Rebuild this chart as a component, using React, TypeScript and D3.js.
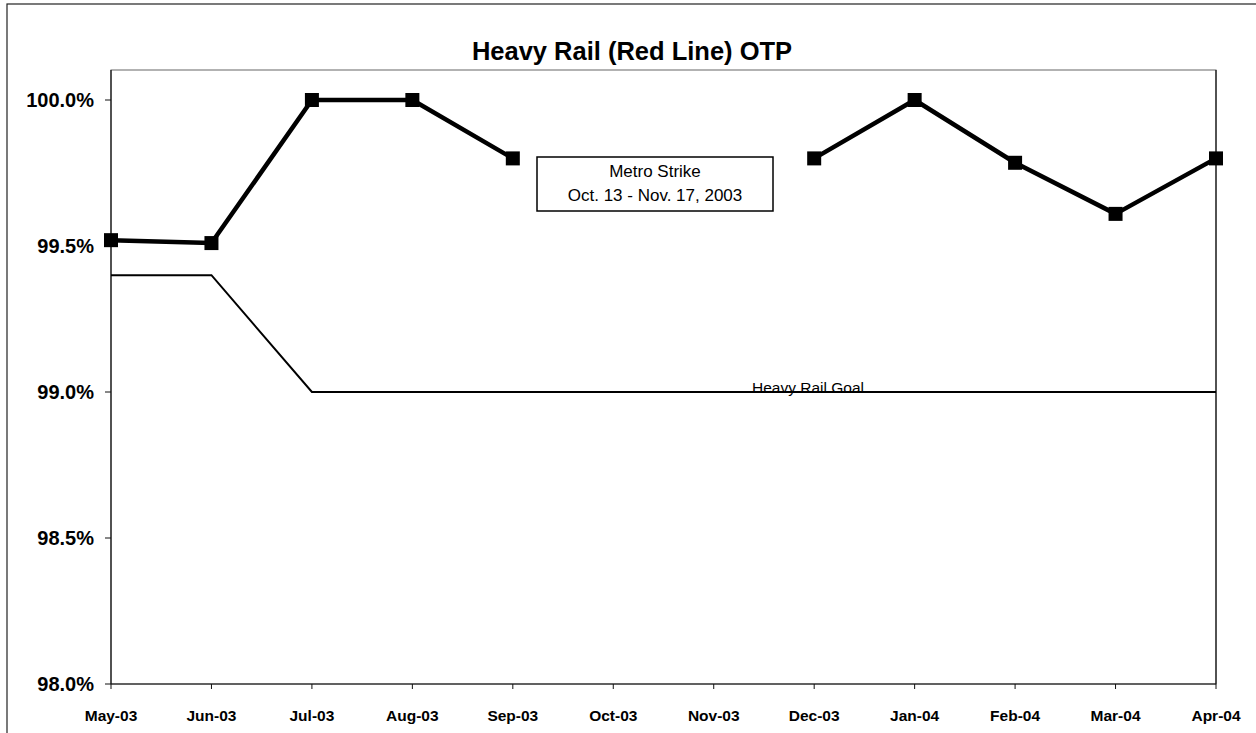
import React from "react";
import * as d3 from "d3";

const months = ["May-03","Jun-03","Jul-03","Aug-03","Sep-03","Oct-03","Nov-03","Dec-03","Jan-04","Feb-04","Mar-04","Apr-04"];
const otp: (number | null)[] = [99.52, 99.51, 100.0, 100.0, 99.8, null, null, 99.8, 100.0, 99.785, 99.61, 99.8];
const goal = [99.4, 99.4, 99.0, 99.0, 99.0, 99.0, 99.0, 99.0, 99.0, 99.0, 99.0, 99.0];
const yTicks = [98.0, 98.5, 99.0, 99.5, 100.0];
const title = "Heavy Rail (Red Line) OTP";
const noteLines = ["Metro Strike", "Oct. 13 - Nov. 17, 2003"];
const goalLabel = "Heavy Rail Goal";

const W = 1256, H = 733;
const left = 111, right = 1216, top = 70, bottom = 684;
const font = "'Liberation Sans', Arial, sans-serif";

export default function App() {
  const x = d3.scalePoint<string>().domain(months).range([left, right]);
  const y = d3.scaleLinear().domain([98, 100]).range([bottom, 100]);

  const otpLine = d3.line<number | null>()
    .defined((d) => d != null)
    .x((_, i) => x(months[i])!)
    .y((d) => y(d as number));
  const goalLine = d3.line<number>()
    .x((_, i) => x(months[i])!)
    .y((d) => y(d));

  return (
    <svg width={W} height={H} style={{ position: "absolute", left: 0, top: 0, background: "#fff" }} fontFamily={font}>
      <rect x={0} y={0} width={W} height={H} fill="#fff" />
      <rect x={7} y={4} width={W + 10} height={H + 10} fill="none" stroke="#222" strokeWidth={1.2} />
      <text x={632} y={60} textAnchor="middle" fontSize={25.5} fontWeight="bold">{title}</text>

      <rect x={left} y={top} width={right - left} height={bottom - top} fill="none" stroke="#666" strokeWidth={1} />
      <line x1={left} x2={left} y1={top} y2={bottom} stroke="#111" strokeWidth={1.2} />
      <line x1={left} x2={right} y1={bottom} y2={bottom} stroke="#111" strokeWidth={1.2} />
      <line x1={right} x2={right} y1={top} y2={bottom} stroke="#111" strokeWidth={1.2} />

      {yTicks.map((t) => (
        <g key={t}>
          <line x1={left - 6} x2={left} y1={y(t)} y2={y(t)} stroke="#111" />
          <text x={94} y={y(t) + 7} textAnchor="end" fontSize={20} fontWeight="bold">{t.toFixed(1)}%</text>
        </g>
      ))}
      {months.map((m) => (
        <g key={m}>
          <line x1={x(m)} x2={x(m)} y1={bottom} y2={bottom + 5} stroke="#111" />
          <text x={x(m)} y={721} textAnchor="middle" fontSize={15.5} fontWeight="bold">{m}</text>
        </g>
      ))}

      <text x={808} y={393} textAnchor="middle" fontSize={15.5}>{goalLabel}</text>
      <path d={goalLine(goal) || ""} fill="none" stroke="#000" strokeWidth={2} />

      <path d={otpLine(otp) || ""} fill="none" stroke="#000" strokeWidth={4.5} strokeLinejoin="round" />
      {otp.map((v, i) => v == null ? null : (
        <rect key={i} x={x(months[i])! - 7} y={y(v) - 7} width={14} height={14} fill="#000" />
      ))}

      <rect x={537} y={157} width={236} height={54} fill="#fff" stroke="#000" strokeWidth={1.5} />
      <text x={655} y={177} textAnchor="middle" fontSize={17}>{noteLines[0]}</text>
      <text x={655} y={201} textAnchor="middle" fontSize={17}>{noteLines[1]}</text>
    </svg>
  );
}
